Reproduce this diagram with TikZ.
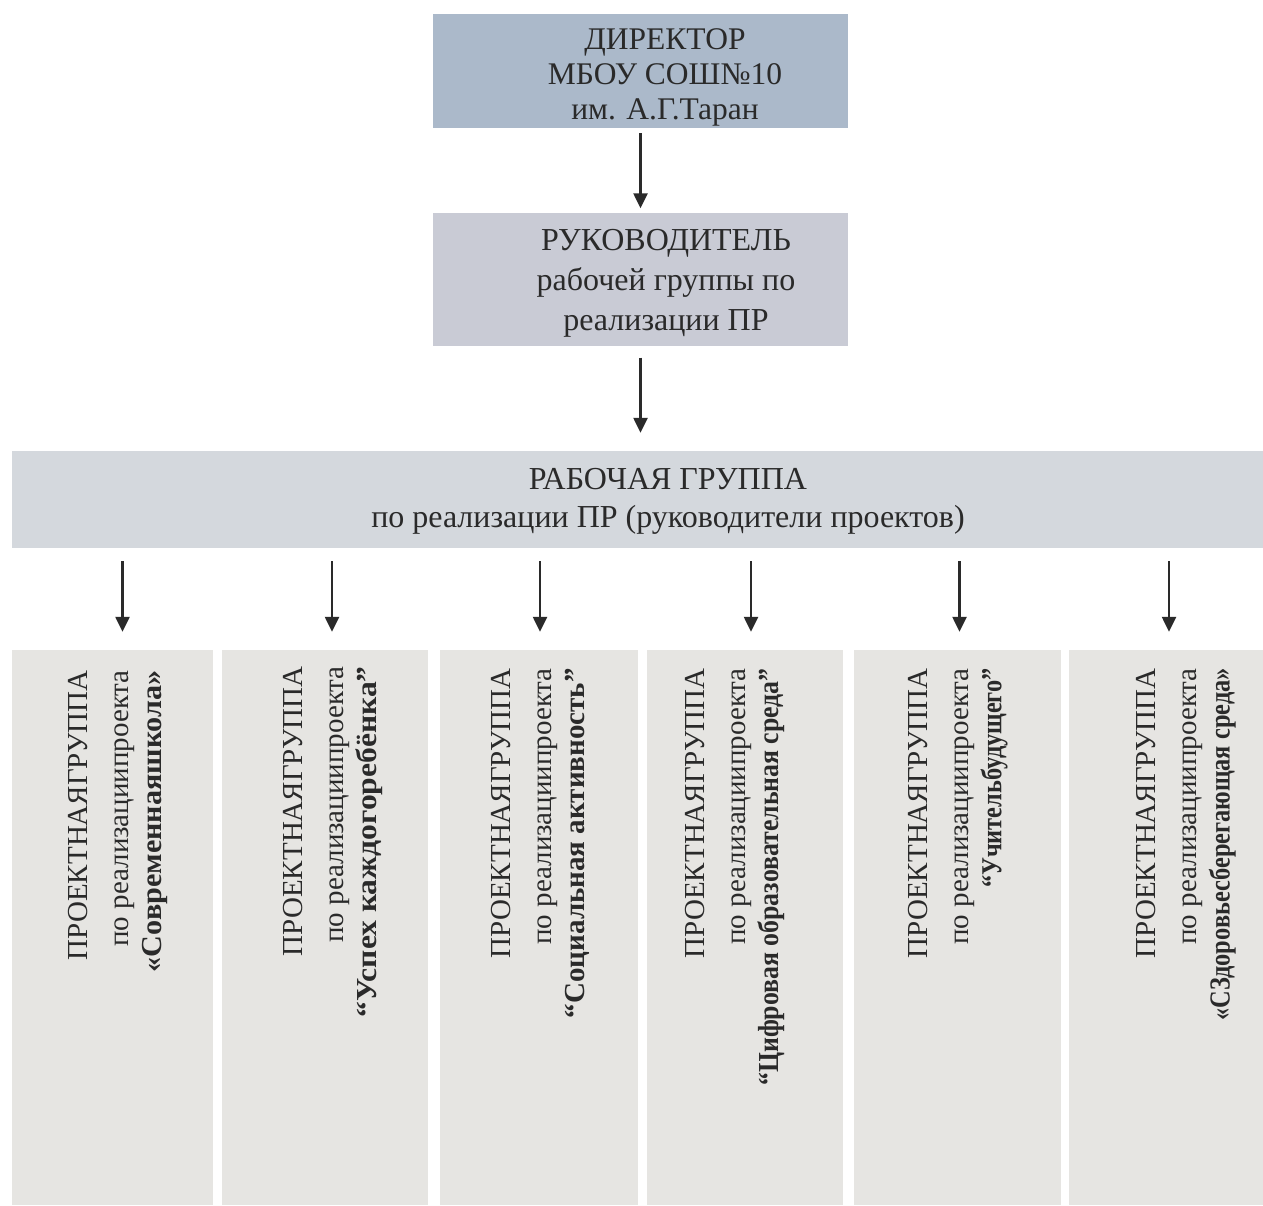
\documentclass[tikz,border=0pt]{standalone}
\usepackage{fontspec}
\usepackage{graphicx}
\setmainfont{Liberation Serif}
\usetikzlibrary{arrows.meta,positioning}
\definecolor{dirbg}{HTML}{ABB9CA}
\definecolor{headbg}{HTML}{C9CBD5}
\definecolor{groupbg}{HTML}{D4D8DD}
\definecolor{projbg}{HTML}{E6E5E2}
\definecolor{ink}{HTML}{2A2A2A}
\newcommand{\projname}[2]{\scalebox{#1}[1]{\textbf{#2}}}
\tikzset{
  box/.style={inner sep=0pt, minimum width=415pt},
  dirbox/.style={box, fill=dirbg, minimum height=114pt},
  headbox/.style={box, fill=headbg, minimum height=133pt},
  groupbox/.style={fill=groupbg, inner sep=0pt, minimum width=1251pt, minimum height=97pt},
  projbox/.style={fill=projbg, inner sep=0pt, minimum height=555pt},
  txt/.style={text=ink, align=center, inner sep=0pt, font=\fontsize{31.5}{35}\selectfont},
  headtxt/.style={txt, font=\fontsize{32}{40}\selectfont},
  grouptxt/.style={txt, font=\fontsize{32}{38}\selectfont},
  projtxt/.style={text=ink, align=right, inner sep=0pt, rotate=90, anchor=east,
    font=\fontsize{29}{36}\selectfont},
  arr/.style={draw=ink, line width=2.4pt, -{Triangle[length=15pt,width=14pt]}},
}
\begin{document}
\begin{tikzpicture}[x=1pt,y=-1pt]
  \useasboundingbox (0,0) rectangle (1263,1205);

  \node[dirbox] (dir) at (640.5,71) {};
  \node[txt] (dirt) at (665,77) {ДИРЕКТОР\\МБОУ СОШ№10\\им. А.Г.Таран};
  \node[headbox] (head) at (640.5,279) {};
  \node[headtxt] (headt) at (666,283) {РУКОВОДИТЕЛЬ\\рабочей группы по\\реализации ПР};
  \node[groupbox] (wg) at (637.5,499.5) {};
  \node[grouptxt] (wgt) at (668,501) {РАБОЧАЯ ГРУППА\\по реализации ПР (руководители проектов)};

  \draw[arr, shorten <=5pt, shorten >=4pt] (dir.south) -- (head.north);
  \draw[arr, shorten <=12pt, shorten >=18pt] (head.south) -- (head.south |- wg.north);

  % project groups
  \node[projbox, minimum width=201pt] (p1) at (112.5,927.5) {};
  \node[projbox, minimum width=206pt] (p2) at (325,927.5) {};
  \node[projbox, minimum width=198pt] (p3) at (539,927.5) {};
  \node[projbox, minimum width=196pt] (p4) at (745,927.5) {};
  \node[projbox, minimum width=207pt] (p5) at (957.5,927.5) {};
  \node[projbox, minimum width=196pt] (p6) at (1167,927.5) {};

  \draw[arr, shorten <=13pt, shorten >=18pt] ([xshift=10pt]p1.north |- wg.south) -- ([xshift=10pt]p1.north);
  \draw[arr, shorten <=13pt, shorten >=18pt] ([xshift=7pt]p2.north |- wg.south) -- ([xshift=7pt]p2.north);
  \draw[arr, shorten <=13pt, shorten >=18pt] ([xshift=1pt]p3.north |- wg.south) -- ([xshift=1pt]p3.north);
  \draw[arr, shorten <=13pt, shorten >=18pt] ([xshift=6pt]p4.north |- wg.south) -- ([xshift=6pt]p4.north);
  \draw[arr, shorten <=13pt, shorten >=18pt] ([xshift=2pt]p5.north |- wg.south) -- ([xshift=2pt]p5.north);
  \draw[arr, shorten <=13pt, shorten >=18pt] ([xshift=2pt]p6.north |- wg.south) -- ([xshift=2pt]p6.north);

  \node[projtxt] (t1) at (118,670) {ПРОЕКТНАЯГРУППА\\[5pt]по реализациипроекта\\[-3pt]\projname{1.04}{«Современнаяшкола»}};
  \node[projtxt] (t2) at (333,666) {ПРОЕКТНАЯГРУППА\\[5pt]по реализациипроекта\\[-3pt]\projname{1.09}{“Успех каждогоребёнка”}};
  \node[projtxt] (t3) at (540,668) {ПРОЕКТНАЯГРУППА\\[5pt]по реализациипроекта\\[-3pt]\projname{1}{“Социальная активность”}};
  \node[projtxt] (t4) at (735,668) {ПРОЕКТНАЯГРУППА\\[5pt]по реализациипроекта\\[-3pt]\projname{0.89}{“Цифровая образовательная среда”}};
  \node[projtxt] (t5) at (958,668) {ПРОЕКТНАЯГРУППА\\[5pt]по реализациипроекта\\[-3pt]\projname{0.84}{“Учительбудущего”}};
  \node[projtxt] (t6) at (1186,668) {ПРОЕКТНАЯГРУППА\\[5pt]по реализациипроекта\\[-3pt]\projname{0.84}{«СЗдоровьесберегающая среда»}};
\end{tikzpicture}
\end{document}
